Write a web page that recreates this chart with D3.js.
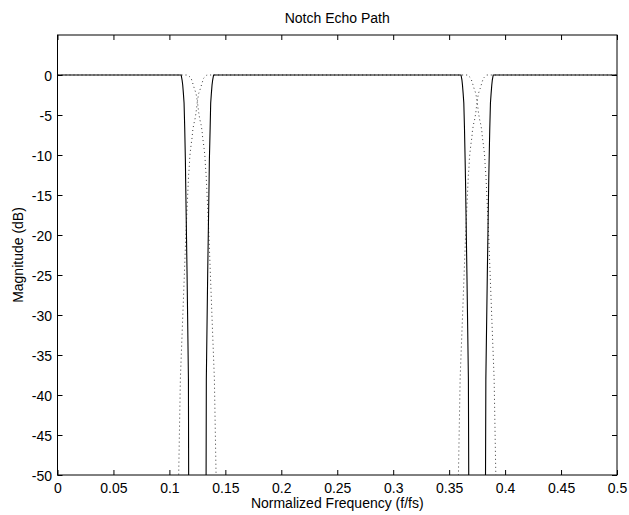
<!DOCTYPE html>
<html><head><meta charset="utf-8">
<script src="https://cdn.jsdelivr.net/npm/d3@7"></script>
<style>
html,body{margin:0;padding:0;background:#fff;}
text{font-family:"Liberation Sans",Arial,Helvetica,sans-serif;fill:#000;}
</style></head>
<body><div id="chart"></div>
<script>
// ---- data ----
const title = "Notch Echo Path";
const xLabel = "Normalized Frequency (f/fs)";
const yLabel = "Magnitude (dB)";
const xTicks = [0,0.05,0.1,0.15,0.2,0.25,0.3,0.35,0.4,0.45,0.5];
const xTickLabels = ["0","0.05","0.1","0.15","0.2","0.25","0.3","0.35","0.4","0.45","0.5"];
const yTicks = [-50,-45,-40,-35,-30,-25,-20,-15,-10,-5,0];
const yTickLabels = ["-50","-45","-40","-35","-30","-25","-20","-15","-10","-5","0"];

// solid curve (frequency, dB)
const solidFreq = [0,0.1105,0.1113,0.1119,0.1125,0.1131,0.1137,0.1143,0.1145,0.1158,0.1170,0.1172,0.1175,
  0.1325,0.1328,0.1330,0.1342,0.1355,0.1357,0.1364,0.1369,0.1375,0.1381,0.1387,0.1395,
  0.3606,0.3614,0.3619,0.3625,0.3631,0.3637,0.3643,0.3646,0.3659,0.3672,0.3675,0.3677,
  0.3823,0.3825,0.3828,0.3841,0.3854,0.3857,0.3863,0.3869,0.3875,0.3881,0.3886,0.3894,0.5];
const solidDb = [0,0,-0.6,-1.25,-2.3,-3.5,-6.7,-10.8,-13,-25,-38,-50,-60,
  -60,-50,-38,-25,-13,-10.8,-6.7,-3.5,-2.3,-1.25,-0.6,0,
  0,-0.6,-1.25,-2.3,-3.5,-6.7,-10.8,-13,-25,-38,-50,-60,
  -60,-50,-38,-25,-13,-10.8,-6.7,-3.5,-2.3,-1.25,-0.6,0,0];

// dotted curve (frequency, dB)
const dottedFreq = [0,0.1165,0.1194,0.1208,0.1223,0.1238,0.1250,0.1238,0.1229,0.1217,0.1208,0.1203,0.1196,0.1190,0.1185,0.1181,0.1179,0.1176,0.1172,0.1147,0.1120,0.1098,0.1083,0.1070,
  0.1430,0.1417,0.1402,0.1380,0.1353,0.1328,0.1324,0.1321,0.1319,0.1315,0.1310,0.1304,0.1297,0.1292,0.1283,0.1271,0.1262,0.1250,0.1262,0.1277,0.1292,0.1306,0.1335,
  0.3665,0.3694,0.3708,0.3723,0.3738,0.3750,0.3738,0.3729,0.3717,0.3708,0.3703,0.3696,0.3690,0.3685,0.3681,0.3679,0.3676,0.3672,0.3647,0.3620,0.3598,0.3583,0.3570,
  0.3930,0.3917,0.3902,0.3880,0.3853,0.3828,0.3824,0.3821,0.3819,0.3815,0.3810,0.3804,0.3797,0.3792,0.3783,0.3771,0.3762,0.3750,0.3762,0.3777,0.3792,0.3806,0.3835,0.5];
const dottedDb = [0,0,-0.4,-1.0,-1.7,-2.3,-3.3,-4.7,-5.5,-6.2,-7.0,-7.8,-8.5,-9.2,-9.8,-10.5,-11.1,-11.8,-12.4,-20,-30,-38,-50,-60,
  -60,-50,-38,-30,-20,-12.4,-11.8,-11.1,-10.5,-9.8,-9.2,-8.5,-7.8,-7.0,-6.2,-5.5,-4.7,-3.3,-2.3,-1.7,-1.0,-0.4,0,
  0,-0.4,-1.0,-1.7,-2.3,-3.3,-4.7,-5.5,-6.2,-7.0,-7.8,-8.5,-9.2,-9.8,-10.5,-11.1,-11.8,-12.4,-20,-30,-38,-50,-60,
  -60,-50,-38,-30,-20,-12.4,-11.8,-11.1,-10.5,-9.8,-9.2,-8.5,-7.8,-7.0,-6.2,-5.5,-4.7,-3.3,-2.3,-1.7,-1.0,-0.4,0,0];

// ---- layout ----
const W = 629, H = 515;
const m = {left:57.5, right:617, top:35, bottom:475};
const svg = d3.select("#chart").append("svg").attr("width",W).attr("height",H);
svg.append("rect").attr("width",W).attr("height",H).attr("fill","#fff");

const x = d3.scaleLinear().domain([0,0.5]).range([m.left,m.right]);
const y = d3.scaleLinear().domain([-50,5]).range([m.bottom,m.top]);

svg.append("defs").append("clipPath").attr("id","clip")
  .append("rect").attr("x",m.left).attr("y",m.top).attr("width",m.right-m.left).attr("height",m.bottom-m.top);

const line = d3.line().x(d=>x(d[0])).y(d=>y(d[1]));
const dotted = dottedFreq.map((f,i)=>[f,dottedDb[i]]);
const solid = solidFreq.map((f,i)=>[f,solidDb[i]]);

const g = svg.append("g").attr("clip-path","url(#clip)");
g.append("path").datum(dotted).attr("d",line).attr("fill","none")
  .attr("stroke","#222").attr("stroke-width",0.9).attr("stroke-dasharray","1,3");
g.append("path").datum(solid).attr("d",line).attr("fill","none")
  .attr("stroke","#000").attr("stroke-width",1.1);

// axes (inward ticks on all sides)
const tl = 5;
const axB = d3.axisBottom(x).tickValues(xTicks).tickSizeInner(-tl).tickSizeOuter(0).tickFormat((d,i)=>xTickLabels[i]);
const axT = d3.axisTop(x).tickValues(xTicks).tickSizeInner(-tl).tickSizeOuter(0).tickFormat("");
const axL = d3.axisLeft(y).tickValues(yTicks).tickSizeInner(-tl).tickSizeOuter(0).tickFormat((d,i)=>yTickLabels[i]);
const axR = d3.axisRight(y).tickValues(yTicks).tickSizeInner(-tl).tickSizeOuter(0).tickFormat("");

function style(sel){
  sel.select(".domain").remove();
  sel.selectAll("line").attr("stroke","#000").attr("stroke-width",1);
  sel.selectAll("text").attr("font-size","14px").attr("font-family","Liberation Sans, Arial, sans-serif").attr("fill","#000");
}
svg.append("g").attr("transform",`translate(0,${m.bottom})`).call(axB).call(style)
  .selectAll("text").attr("y",8).attr("dy","0.71em");
svg.append("g").attr("transform",`translate(0,${m.top})`).call(axT).call(style);
svg.append("g").attr("transform",`translate(${m.left},0)`).call(axL).call(style)
  .selectAll("text").attr("x",-5.5).attr("dy","0.42em");
svg.append("g").attr("transform",`translate(${m.right},0)`).call(axR).call(style);

// frame
svg.append("rect").attr("x",m.left).attr("y",m.top).attr("width",m.right-m.left).attr("height",m.bottom-m.top)
  .attr("fill","none").attr("stroke","#000").attr("stroke-width",1);

// labels
svg.append("text").attr("x",(m.left+m.right)/2).attr("y",23).attr("text-anchor","middle")
  .attr("font-size","14px").text(title);
svg.append("text").attr("x",(m.left+m.right)/2).attr("y",508).attr("text-anchor","middle")
  .attr("font-size","14px").text(xLabel);
svg.append("text").attr("transform",`translate(23,${(m.top+m.bottom)/2}) rotate(-90)`).attr("text-anchor","middle")
  .attr("font-size","14px").text(yLabel);
</script></body></html>
